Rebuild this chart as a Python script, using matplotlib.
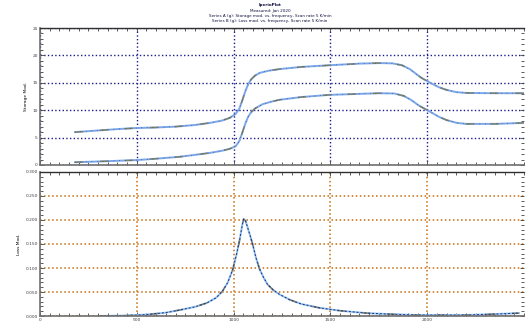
import numpy as np
import matplotlib
matplotlib.use("Agg")
import matplotlib.pyplot as plt
from matplotlib.ticker import MultipleLocator, FormatStrFormatter

# ---- data ----
x_upper = [180, 300, 400, 500, 600, 700, 800, 880, 940, 980, 1010, 1030, 1045, 1060, 1075,
           1090, 1110, 1134, 1180, 1237, 1350, 1495, 1650, 1753, 1820, 1870, 1910, 1940,
           1970, 2016, 2060, 2100, 2150, 2200, 2350, 2510]
y_upper = [6.0, 6.3, 6.55, 6.75, 6.85, 7.0, 7.3, 7.7, 8.1, 8.6, 9.3, 10.3, 11.8, 13.4, 14.7,
           15.6, 16.3, 16.8, 17.2, 17.5, 17.9, 18.2, 18.5, 18.6, 18.55, 18.2, 17.5, 16.7,
           15.9, 15.0, 14.2, 13.7, 13.3, 13.15, 13.1, 13.1]

x_lower = [180, 350, 500, 600, 722, 800, 876, 940, 980, 1010, 1030, 1045, 1060, 1075, 1090,
           1110, 1150, 1200, 1237, 1350, 1495, 1753, 1830, 1880, 1920, 1959, 2016, 2060,
           2100, 2150, 2200, 2350, 2510]
y_lower = [0.5, 0.7, 0.9, 1.15, 1.5, 1.85, 2.2, 2.6, 2.95, 3.4, 4.4, 5.9, 7.5, 8.8, 9.6,
           10.3, 11.1, 11.6, 11.9, 12.4, 12.8, 13.1, 13.05, 12.6, 11.8, 10.8, 9.7, 8.8,
           8.2, 7.7, 7.5, 7.5, 7.7]

x_loss = [309, 450, 552, 650, 722, 800, 861, 910, 943, 970, 995, 1015, 1031, 1045, 1052,
          1062, 1072, 1085, 1098, 1115, 1134, 1155, 1175, 1205, 1237, 1289, 1350, 1443,
          1550, 1686, 1800, 1943, 2201, 2350, 2474]
y_loss = [0.0, 0.001, 0.003, 0.007, 0.0125, 0.019, 0.027, 0.038, 0.052, 0.070, 0.096,
          0.128, 0.158, 0.190, 0.202, 0.198, 0.185, 0.168, 0.150, 0.122, 0.098, 0.080,
          0.066, 0.054, 0.045, 0.034, 0.025, 0.017, 0.011, 0.006, 0.004, 0.002, 0.002,
          0.004, 0.006]

top_yticks = [0, 5, 10, 15, 20, 25]
bot_yticks = [0.0, 0.05, 0.10, 0.15, 0.20, 0.25, 0.30]
x_ticks = [0, 500, 1000, 1500, 2000]

title_lines = ["IperioPlot", "Measured: Jan 2020",
               "Series A (g): Storage mod. vs. frequency, Scan rate 5 K/min",
               "Series B (g): Loss mod. vs. frequency, Scan rate 5 K/min"]

fig = plt.figure(figsize=(5.28, 3.22), dpi=100)
W, H = 528, 322
left, right = 40, 524

def axes_px(top, bottom):
    return fig.add_axes([left / W, 1 - bottom / H, (right - left) / W, (bottom - top) / H])

ax1 = axes_px(28, 165)
ax2 = axes_px(172, 316)

fs = 3.2
for ax in (ax1, ax2):
    ax.set_xlim(0, 2500)
    ax.xaxis.set_major_locator(MultipleLocator(500))
    ax.xaxis.set_minor_locator(MultipleLocator(50))
    for s in ("left", "bottom"):
        ax.spines[s].set_color("#707070")
        ax.spines[s].set_linewidth(1.2)
    ax.spines["right"].set_visible(False)
    ax.spines["top"].set_color("#303030")
    ax.spines["top"].set_linewidth(1.0)
    ax.tick_params(which="both", direction="in", length=2, width=0.6, colors="#404040",
                   labelsize=fs, pad=1.5, right=True, top=True)
    ax.tick_params(which="major", length=3)

# top panel
ax1.set_ylim(0, 25)
ax1.set_yticks(top_yticks)
ax1.yaxis.set_minor_locator(MultipleLocator(1))
ax1.set_xticks(x_ticks)
ax1.tick_params(labelbottom=False)
ax1.grid(True, which="major", color="#1a1a8a", linestyle=":", linewidth=1.0)
for xs, ys in ((x_upper, y_upper), (x_lower, y_lower)):
    ax1.plot(xs, ys, color="#7aa8e8", lw=1.4, solid_capstyle="round", solid_joinstyle="round")
    ax1.plot(xs, ys, color="#7d8266", lw=1.0, dashes=(6, 12))
    ax1.plot(xs, ys, color="#4a3070", lw=0.5, dashes=(1, 7))
ax1.set_ylabel("Storage Mod.", fontsize=fs, labelpad=3)

# bottom panel
ax2.set_ylim(0, 0.30)
ax2.set_yticks(bot_yticks)
ax2.yaxis.set_minor_locator(MultipleLocator(0.01))
ax2.yaxis.set_major_formatter(FormatStrFormatter("%.3f"))
ax2.set_xticks(x_ticks)
ax2.grid(True, which="major", color="#c86a10", linestyle=":", linewidth=1.1)
ax2.plot(x_loss, y_loss, color="#8cc4ee", lw=1.4, solid_joinstyle="round")
ax2.plot(x_loss, y_loss, color="#7d8266", lw=1.0, dashes=(6, 12))
ax2.plot(x_loss, y_loss, color="#2a2a80", lw=0.7, dashes=(2, 2))
ax2.set_ylabel("Loss Mod.", fontsize=fs, labelpad=3)

# title lines
ys_px = [5, 11, 16, 21]
for t, yp, bold in zip(title_lines, ys_px, [True, False, False, False]):
    fig.text(270 / W, 1 - yp / H, t, ha="center", va="center", fontsize=3.0,
             fontweight="bold" if bold else "normal", color="#101040")

fig.savefig("out.png", dpi=100)
